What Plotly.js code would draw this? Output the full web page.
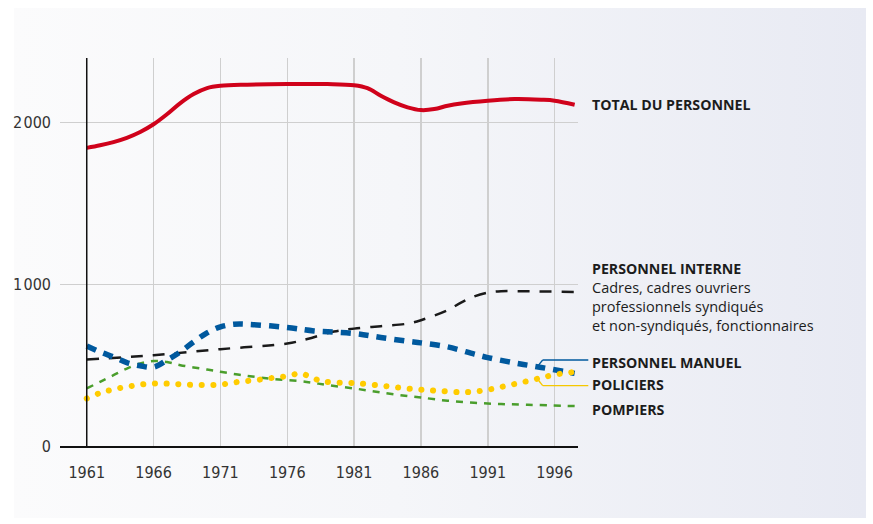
<!DOCTYPE html>
<html>
<head>
<meta charset="utf-8">
<script src="https://cdn.plot.ly/plotly-3.0.1.min.js"></script>
<style>
  html, body { margin: 0; padding: 0; background: #ffffff; }
  #wrap { position: relative; width: 873px; height: 524px; background: #ffffff; overflow: hidden; }
  #panel { position: absolute; left: 14px; top: 8px; width: 852px; height: 510px;
           background: linear-gradient(to right, #fbfbfc 0%, #f5f6f9 45%, #e8eaf3 100%); }
  #chart { position: absolute; left: 0; top: 0; width: 873px; height: 524px; }
</style>
</head>
<body>
<div id="wrap"><div id="panel"></div><div id="chart"></div></div>
<script>
// ---- Data ----
const totalYears = [1961,1962,1963,1964,1965,1966,1967,1968,1969,1970,1971,1973,1976,1979,1981,1982,1983,1984,1985,1986,1987,1988,1989,1991,1993,1995,1996,1997.5];
const totalVals  = [1844,1860,1880,1906,1942,1990,2052,2121,2177,2214,2228,2235,2239,2239,2232,2214,2167,2126,2095,2078,2084,2105,2119,2136,2146,2142,2136,2111];

const interneYears = [1961,1966,1971,1976,1977.5,1979.5,1981,1983,1985,1986,1988,1989,1990,1991,1992,1994,1997.5];
const interneVals  = [535,562,599,634,662,708,726,741,757,778,840,887,926,949,957,957,953];

const manuelYears = [1961,1962,1963,1964,1965,1966,1967,1968,1969,1970,1971,1972,1973,1976,1978,1981,1983,1985,1986,1988,1990,1991,1993,1995,1997.5];
const manuelVals  = [619,582,551,516,496,488,531,582,644,700,737,753,753,733,712,696,671,648,638,613,568,547,514,486,449];

const policiersYears = [1961,1962,1963,1964,1965,1966,1967,1968,1969,1970,1971,1972,1973,1974,1975,1976,1977,1977.7,1978.5,1979.5,1981,1983,1985,1987,1989,1990,1991,1992,1993,1994,1995,1996,1997.5];
const policiersVals  = [294,328,350,366,380,387,386,382,378,377,380,393,402,411,422,432,449,428,403,393,389,374,355,343,333,336,348,365,383,402,422,441,458];

const pompiersYears = [1961,1962,1963,1964,1965,1966,1967,1968,1970,1971,1973,1975,1977,1978,1979,1981,1983,1985,1986,1988,1991,1994,1997.5];
const pompiersVals  = [356,397,438,479,510,525,520,500,473,459,434,414,401,390,377,356,331,309,300,280,263,255,247];

const xTickVals = [1961,1966,1971,1976,1981,1986,1991,1996];
const xTickText = ['1961','1966','1971','1976','1981','1986','1991','1996'];
const yTickVals = [0,1000,2000];
const yTickText = ['0','1\u200A000','2\u200A000'];

const labelTotal = 'TOTAL DU PERSONNEL';
const labelInterne = 'PERSONNEL INTERNE';
const labelInterneSub = ['Cadres, cadres ouvriers','professionnels syndiqués','et non-syndiqués, fonctionnaires'];
const labelManuel = 'PERSONNEL MANUEL';
const labelPoliciers = 'POLICIERS';
const labelPompiers = 'POMPIERS';

// ---- Traces ----
const traces = [
  {x: totalYears, y: totalVals, mode: 'lines', line: {color: '#d0021b', width: 4, shape: 'spline', smoothing: 1}},
  {x: pompiersYears, y: pompiersVals, mode: 'lines', line: {color: '#4a9e2c', width: 2.5, dash: '7px,7px', shape: 'spline', smoothing: 1}},
  {x: interneYears, y: interneVals, mode: 'lines', line: {color: '#1a1a1a', width: 2.5, dash: '12px,10px', shape: 'spline', smoothing: 1}},
  {x: manuelYears, y: manuelVals, mode: 'lines', line: {color: '#00599e', width: 5.5, dash: '10px,8px', shape: 'spline', smoothing: 1}},
  {x: policiersYears, y: policiersVals, mode: 'lines', line: {color: '#ffcc00', width: 6, dash: '0.1px,11.6px', shape: 'spline', smoothing: 1}}
];

const FL = 'Open Sans, Noto Sans, sans-serif';
const FT = 'DejaVu Sans Condensed, Open Sans, sans-serif';
function lab(text, ypix, bold) {
  return {xref: 'paper', yref: 'paper', x: (590 - 60) / 518, y: (446 - ypix) / 388,
          xanchor: 'left', yanchor: 'middle', showarrow: false, align: 'left',
          text: bold ? '<b>' + text + '</b>' : text,
          font: {family: FL, size: bold ? 14.2 : 14.5, color: '#1c1c1c'}};
}
function px2x(p) { return (p - 60) / 518; }
function px2y(p) { return (446 - p) / 388; }

const annotations = [
  lab(labelTotal, 104, true),
  lab(labelInterne, 268, true),
  lab(labelInterneSub.join('<br>'), 306, false),
  lab(labelManuel, 362, true),
  lab(labelPoliciers, 384, true),
  lab(labelPompiers, 409, true)
];

const shapes = [
  {type: 'line', xref: 'x', yref: 'paper', x0: 1961, x1: 1961, y0: 0, y1: 1, layer: 'above', line: {color: '#111111', width: 1.5}},
  {type: 'line', xref: 'paper', yref: 'paper', x0: px2x(536.7), y0: px2y(367.3), x1: px2x(542.7), y1: px2y(360), line: {color: '#00599e', width: 1.3}},
  {type: 'line', xref: 'paper', yref: 'paper', x0: px2x(542.7), y0: px2y(360), x1: px2x(588.3), y1: px2y(360), line: {color: '#00599e', width: 1.3}},
  {type: 'line', xref: 'paper', yref: 'paper', x0: px2x(539), y0: px2y(381), x1: px2x(542.7), y1: px2y(385.7), line: {color: '#f5c800', width: 1.3}},
  {type: 'line', xref: 'paper', yref: 'paper', x0: px2x(542.7), y0: px2y(385.7), x1: px2x(588.3), y1: px2y(385.7), line: {color: '#f5c800', width: 1.3}}
];

const layout = {
  width: 873, height: 524,
  margin: {l: 60, r: 295, t: 58, b: 78},
  paper_bgcolor: 'rgba(0,0,0,0)', plot_bgcolor: 'rgba(0,0,0,0)',
  showlegend: false,
  xaxis: {range: [1959, 1997.75], tickmode: 'array', tickvals: xTickVals, ticktext: xTickText,
          showgrid: true, gridcolor: '#cfcfcf', gridwidth: 1.5, zeroline: false,
          showline: true, linecolor: '#111111', linewidth: 1.5, ticks: '', ticklabelstandoff: 11,
          tickfont: {family: FT, size: 16, color: '#333333'}},
  yaxis: {range: [0, 2400], tickmode: 'array', tickvals: yTickVals, ticktext: yTickText,
          showgrid: true, gridcolor: '#cfcfcf', gridwidth: 1.5, zeroline: false, showline: false,
          ticks: '', ticklabelstandoff: 8, tickfont: {family: FT, size: 16, color: '#333333'}},
  annotations: annotations,
  shapes: shapes
};

Plotly.newPlot('chart', traces, layout, {displayModeBar: false, staticPlot: true}).then(function (gd) {
  const tr = gd.querySelectorAll('.scatterlayer .trace');
  const yl = tr[4] && tr[4].querySelector('path.js-line');
  if (yl) yl.style.strokeLinecap = 'round';
});
</script>
</body>
</html>
